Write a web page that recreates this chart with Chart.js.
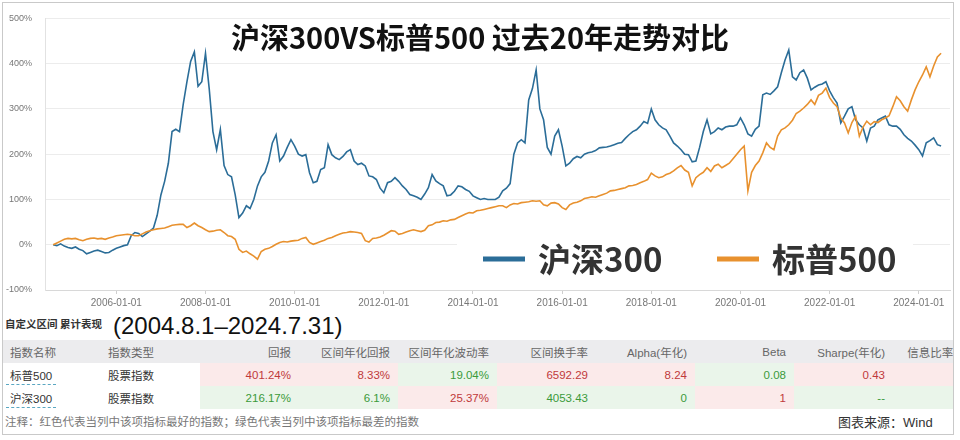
<!DOCTYPE html>
<html>
<head>
<meta charset="UTF-8" />
<title>沪深300VS标普500 过去20年走势对比</title>
<script src="https://cdn.jsdelivr.net/npm/chart.js"></script>
<style>
  body { margin: 0; background: #fff; font-family: "Liberation Sans", "Noto Sans CJK SC", sans-serif; }
  #wrap { position: relative; width: 960px; height: 440px; overflow: hidden; }
  #frame { position: absolute; left: 2px; top: 2px; width: 952px; height: 433px; border: 1px solid #c9c9c9; box-sizing: border-box; }
  #chartBox { position: absolute; left: 0; top: 0; width: 955px; height: 312px; }
  #tableBox { position: absolute; left: 3px; top: 312px; width: 951px; height: 123px; overflow: hidden; }
  .sub { position: absolute; left: 2px; top: 4px; font-size: 10.5px; font-weight: bold; color: #333; font-family: "Noto Sans CJK SC", sans-serif; }
  .range { position: absolute; left: 110px; top: 0px; font-size: 24px; color: #111; }
  table { position: absolute; left: 0; top: 28px; border-collapse: collapse; table-layout: fixed; width: 989px; }
  td, th { height: 23px; padding: 0; font-size: 11.5px; white-space: nowrap; font-weight: normal; }
  th { background: #ececee; color: #666; text-align: right; padding-right: 8px; }
  td { text-align: right; padding-right: 8px; }
  th.l, td.l { text-align: left; padding-right: 0; }
  .name span { border-bottom: 1px dashed #5aa7c2; padding: 0 4px 2px 4px; color: #333; }
  .best { background: #fbeaea; color: #c0393b; }
  .worst { background: #eaf5ea; color: #3a9a3a; }
  .note { position: absolute; left: 2px; top: 101px; font-size: 11.5px; color: #777; }
  .src { position: absolute; left: 835px; top: 100px; font-size: 13px; color: #333; }
</style>
</head>
<body>
<div id="wrap">
  <div id="chartBox"><canvas id="myChart"></canvas></div>
  <div id="tableBox">
    <div class="sub">自定义区间 累计表现</div>
    <div class="range">(2004.8.1–2024.7.31)</div>
    <table id="statsTable">
      <colgroup>
        <col style="width:97px"><col style="width:100px">
        <col style="width:99px"><col style="width:99px"><col style="width:99px"><col style="width:99px">
        <col style="width:99px"><col style="width:99px"><col style="width:99px"><col style="width:99px">
      </colgroup>
      <thead><tr></tr></thead>
      <tbody></tbody>
    </table>
    <div class="note">注释：红色代表当列中该项指标最好的指数；绿色代表当列中该项指标最差的指数</div>
    <div class="src">图表来源：Wind</div>
  </div>
  <div id="frame"></div>
</div>

<script>
// 月度数据 2004-08 ～ 2024-07，累计收益率(%)
const startYear = 2004, startMonth = 8;

const csi300 = [
  0, -2, 2, -3, -6,                                        // 2004
  -8, -5, -10, -13, -20, -17, -14, -12, -15, -18, -17, -12, // 2005
  -8, -5, -2, 0, 20, 27, 25, 18, 24, 30, 37, 65,          // 2006
  110, 140, 180, 250, 255, 250, 310, 360, 405, 426, 350, 360, // 2007
  423, 345, 250, 210, 255, 175, 155, 150, 110, 60, 70, 86, // 2008
  80, 100, 130, 150, 160, 185, 225, 243, 185, 196, 215, 232, // 2009
  218, 200, 196, 199, 159, 137, 140, 166, 170, 221, 199, 192, // 2010
  188, 195, 205, 210, 185, 177, 180, 174, 152, 150, 144, 125, // 2011
  115, 137, 140, 148, 140, 130, 122, 111, 108, 105, 100, 112, // 2012
  126, 155, 141, 135, 130, 108, 110, 118, 130, 128, 122, 118, // 2013
  108, 104, 100, 102, 100, 100, 100, 105, 119, 125, 135, 200, // 2014
  225, 232, 225, 320, 345, 386, 300, 276, 215, 200, 240, 254, // 2015
  218, 174, 180, 190, 195, 192, 200, 203, 205, 208, 214, 215, // 2016
  216, 218, 221, 224, 226, 235, 243, 250, 254, 262, 272, 268, // 2017
  300, 276, 265, 258, 254, 240, 225, 218, 210, 200, 199, 183, // 2018
  185, 215, 250, 276, 245, 250, 258, 254, 260, 262, 262, 265, // 2019
  280, 265, 245, 240, 255, 262, 331, 335, 332, 340, 349, 380, // 2020
  408, 430, 371, 364, 380, 386, 368, 342, 348, 353, 355, 360, // 2021
  340, 325, 313, 269, 284, 300, 305, 276, 265, 258, 229, 258, // 2022
  262, 276, 280, 284, 265, 262, 262, 255, 243, 235, 229, 220, // 2023
  210, 196, 225, 230, 236, 221, 218                          // 2024
];

const sp500 = [
  0, 4, 8, 12, 14,                                         // 2004
  13, 14, 11, 9, 12, 14, 15, 13, 14, 12, 15, 17,           // 2005
  20, 21, 22, 23, 22, 20, 20, 24, 28, 31, 33, 35,          // 2006
  36, 37, 40, 43, 44, 45, 45, 38, 42, 48, 42, 38,          // 2007
  33, 29, 30, 32, 33, 27, 20, 18, 12, -10, -17, -14,       // 2008
  -20, -25, -32, -15, -10, -8, -4, 1, 5, 7, 6, 8,          // 2009
  9, 10, 14, 16, 5, 1, 4, 7, 10, 14, 16, 20,               // 2010
  23, 26, 27, 29, 28, 27, 25, 9, 6, 14, 15, 17,            // 2011
  21, 26, 31, 30, 23, 25, 28, 31, 33, 31, 29, 32,          // 2012
  42, 44, 49, 50, 53, 52, 55, 56, 60, 64, 68, 71,          // 2013
  70, 75, 76, 78, 80, 82, 84, 86, 86, 82, 88, 91,          // 2014
  90, 93, 94, 95, 97, 96, 97, 88, 86, 92, 93, 90,          // 2015
  82, 78, 88, 92, 94, 97, 102, 104, 106, 105, 108, 111,    // 2016
  114, 119, 120, 122, 124, 126, 130, 131, 133, 137, 140, 144, // 2017
  158, 152, 148, 150, 155, 158, 163, 170, 175, 165, 160, 130, // 2018
  148, 155, 160, 170, 162, 174, 178, 170, 175, 180, 190, 200, // 2019
  210, 218, 119, 160, 175, 185, 203, 225, 215, 210, 240, 254, // 2020
  258, 265, 275, 290, 295, 302, 310, 320, 310, 330, 335, 346, // 2021
  325, 313, 305, 280, 269, 247, 270, 284, 240, 260, 273, 265, // 2022
  272, 270, 276, 280, 285, 305, 327, 318, 305, 295, 320, 342, // 2023
  360, 375, 393, 371, 395, 415, 423                          // 2024
];

const yearTicks = [2006, 2008, 2010, 2012, 2014, 2016, 2018, 2020, 2022, 2024];

// 表格
const headers = ['指数名称', '指数类型', '回报', '区间年化回报', '区间年化波动率', '区间换手率', 'Alpha(年化)', 'Beta', 'Sharpe(年化)', '信息比率(年化)'];
const rowNames = ['标普500', '沪深300'];
const rowTypes = ['股票指数', '股票指数'];
const rowValues = [
  ['401.24%', '8.33%', '19.04%', '6592.29', '8.24', '0.08', '0.43', ''],
  ['216.17%', '6.1%', '25.37%', '4053.43', '0', '1', '--', '']
];
// 1 = 最好(红)，0 = 最差(绿)
const rowBest = [
  [1, 1, 0, 1, 1, 0, 1, 1],
  [0, 0, 1, 0, 0, 1, 0, 0]
];

function main() {
  const headRow = document.querySelector('#statsTable thead tr');
  headers.forEach((h, i) => {
    const th = document.createElement('th');
    th.textContent = h;
    if (i < 2) { th.className = 'l'; th.style.paddingLeft = i === 0 ? '7px' : '8px'; }
    headRow.appendChild(th);
  });
  const tbody = document.querySelector('#statsTable tbody');
  rowNames.forEach((name, r) => {
    const tr = document.createElement('tr');
    tr.innerHTML = `<td class="l name" style="padding-left:3px"><span>${name}</span></td>` +
      `<td class="l" style="padding-left:8px;color:#333">${rowTypes[r]}</td>` +
      rowValues[r].map((v, c) => `<td class="${rowBest[r][c] ? 'best' : 'worst'}">${v}</td>`).join('');
    tbody.appendChild(tr);
  });

  const toPoints = arr => arr.map((v, i) => ({ x: startYear + (startMonth - 1 + i) / 12, y: v }));

  const overlay = {
    id: 'overlay',
    beforeDatasetsDraw(chart) {
      const c = chart.ctx;
      c.save();
      c.fillStyle = '#fff';
      c.fillRect(457, 228, 456, 58);
      c.restore();
    },
    afterDraw(chart) {
      const c = chart.ctx;
      c.save();
      c.fillStyle = '#111';
      c.font = 'bold 29px "Noto Sans CJK SC"';
      c.textAlign = 'center';
      c.textBaseline = 'middle';
      c.fillText('沪深300VS标普500 过去20年走势对比', 480, 38);

      const items = [
        { ds: chart.data.datasets[1], x: 483 },
        { ds: chart.data.datasets[0], x: 717 }
      ];
      c.textAlign = 'left';
      c.font = 'bold 33px "Noto Sans CJK SC"';
      items.forEach(it => {
        c.strokeStyle = it.ds.borderColor;
        c.lineWidth = 5;
        c.beginPath();
        c.moveTo(it.x, 259);
        c.lineTo(it.x + 42, 259);
        c.stroke();
        c.fillStyle = '#333';
        c.fillText(it.ds.label, it.x + 55, 259);
      });
      c.restore();
    }
  };

  const ctx = document.getElementById('myChart').getContext('2d');
  new Chart(ctx, {
    type: 'line',
    data: {
      datasets: [
        { label: '标普500', data: toPoints(sp500), borderColor: '#e8912e', borderWidth: 1.6, pointRadius: 0, fill: false },
        { label: '沪深300', data: toPoints(csi300), borderColor: '#2b6d98', borderWidth: 1.6, pointRadius: 0, fill: false }
      ]
    },
    options: {
      responsive: true,
      maintainAspectRatio: false,
      animation: false,
      events: [],
      layout: { padding: { top: 18, right: 5, bottom: 2, left: 0 } },
      plugins: { legend: { display: false }, title: { display: false }, tooltip: { enabled: false } },
      scales: {
        x: {
          type: 'linear',
          min: 2004.4,
          max: 2024.7,
          afterBuildTicks: s => { s.ticks = yearTicks.map(v => ({ value: v })); },
          afterFit: s => { s.height = 20; },
          grid: { drawOnChartArea: false, drawTicks: true, tickLength: 4, color: '#cfcfcf' },
          border: { color: '#d8d8d8' },
          ticks: {
            autoSkip: false, maxRotation: 0, padding: 3,
            color: '#777', font: { size: 10, family: 'Liberation Sans' },
            callback: v => v + '-01-01'
          }
        },
        y: {
          min: -100,
          max: 500,
          afterFit: s => { s.width = 45; },
          grid: { color: '#ececec', drawTicks: false },
          border: { color: '#e2e2e2' },
          ticks: {
            stepSize: 100, padding: 13,
            color: '#777', font: { size: 9, family: 'Liberation Sans' },
            callback: v => v + '%'
          }
        }
      }
    },
    plugins: [overlay]
  });
}

main();
</script>
</body>
</html>
